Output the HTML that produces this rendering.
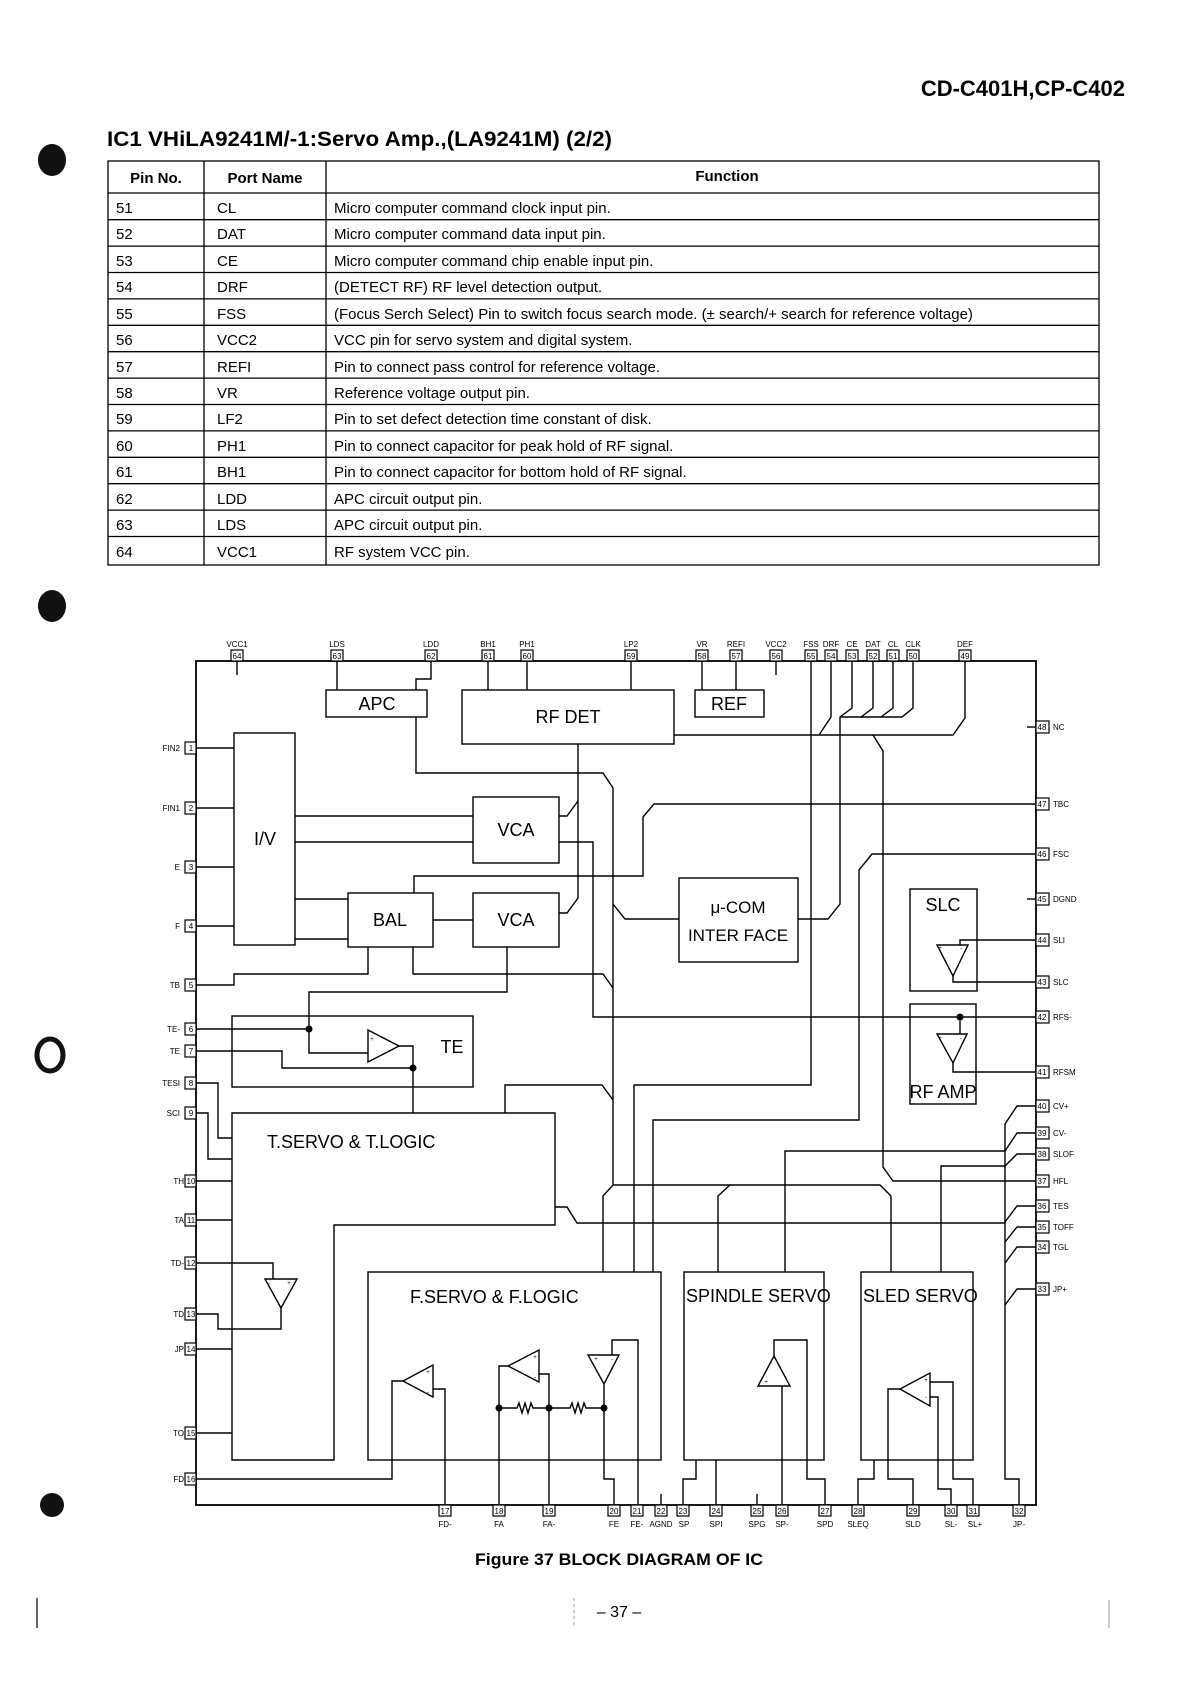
<!DOCTYPE html>
<html><head><meta charset="utf-8"><style>
html,body{margin:0;padding:0;background:#fff;}
svg{display:block;}
text{font-family:"Liberation Sans",Arial,sans-serif;fill:#000;}
</style></head><body>
<svg width="1190" height="1683" viewBox="0 0 1190 1683" xmlns="http://www.w3.org/2000/svg">
<rect width="1190" height="1683" fill="#fff"/>
<!-- punch holes -->
<ellipse cx="52" cy="160" rx="14" ry="16" fill="#111"/>
<ellipse cx="52" cy="606" rx="14" ry="16" fill="#111"/>
<ellipse cx="50" cy="1055" rx="13" ry="16" fill="none" stroke="#111" stroke-width="5"/>
<ellipse cx="52" cy="1505" rx="12" ry="12" fill="#111"/>

<text x="1125" y="96" font-size="22" font-weight="bold" text-anchor="end">CD-C401H,CP-C402</text>
<text x="107" y="146" font-size="21" font-weight="bold" textLength="505" lengthAdjust="spacingAndGlyphs">IC1 VHiLA9241M/-1:Servo Amp.,(LA9241M) (2/2)</text>

<!-- table -->
<g stroke="#000" stroke-width="1.3" fill="none">
<rect x="108" y="161" width="991" height="404"/>
<line x1="204" y1="161" x2="204" y2="565"/>
<line x1="326" y1="161" x2="326" y2="565"/>
<line x1="108" y1="193" x2="1099" y2="193"/>
<line x1="108" y1="219.7" x2="1099" y2="219.7"/>
<line x1="108" y1="246.1" x2="1099" y2="246.1"/>
<line x1="108" y1="272.5" x2="1099" y2="272.5"/>
<line x1="108" y1="298.9" x2="1099" y2="298.9"/>
<line x1="108" y1="325.3" x2="1099" y2="325.3"/>
<line x1="108" y1="351.7" x2="1099" y2="351.7"/>
<line x1="108" y1="378.1" x2="1099" y2="378.1"/>
<line x1="108" y1="404.5" x2="1099" y2="404.5"/>
<line x1="108" y1="430.9" x2="1099" y2="430.9"/>
<line x1="108" y1="457.3" x2="1099" y2="457.3"/>
<line x1="108" y1="483.7" x2="1099" y2="483.7"/>
<line x1="108" y1="510.1" x2="1099" y2="510.1"/>
<line x1="108" y1="536.5" x2="1099" y2="536.5"/>
</g>
<g font-size="15">
<text x="156" y="183" font-weight="bold" text-anchor="middle">Pin No.</text>
<text x="265" y="183" font-weight="bold" text-anchor="middle">Port Name</text>
<text x="727" y="181" font-weight="bold" text-anchor="middle">Function</text>
<text x="116" y="213">51</text><text x="217" y="213">CL</text><text x="334" y="213">Micro computer command clock input pin.</text>
<text x="116" y="239">52</text><text x="217" y="239">DAT</text><text x="334" y="239">Micro computer command data input pin.</text>
<text x="116" y="266">53</text><text x="217" y="266">CE</text><text x="334" y="266">Micro computer command chip enable input pin.</text>
<text x="116" y="292">54</text><text x="217" y="292">DRF</text><text x="334" y="292">(DETECT RF) RF level detection output.</text>
<text x="116" y="319">55</text><text x="217" y="319">FSS</text><text x="334" y="319">(Focus Serch Select)  Pin to switch focus search mode. (± search/+ search for reference voltage)</text>
<text x="116" y="345">56</text><text x="217" y="345">VCC2</text><text x="334" y="345">VCC pin for servo system and digital system.</text>
<text x="116" y="372">57</text><text x="217" y="372">REFI</text><text x="334" y="372">Pin to connect pass control for reference voltage.</text>
<text x="116" y="398">58</text><text x="217" y="398">VR</text><text x="334" y="398">Reference voltage output pin.</text>
<text x="116" y="424">59</text><text x="217" y="424">LF2</text><text x="334" y="424">Pin to set defect detection time constant of disk.</text>
<text x="116" y="451">60</text><text x="217" y="451">PH1</text><text x="334" y="451">Pin to connect capacitor for peak hold of RF signal.</text>
<text x="116" y="477">61</text><text x="217" y="477">BH1</text><text x="334" y="477">Pin to connect capacitor for bottom hold of RF signal.</text>
<text x="116" y="504">62</text><text x="217" y="504">LDD</text><text x="334" y="504">APC circuit output pin.</text>
<text x="116" y="530">63</text><text x="217" y="530">LDS</text><text x="334" y="530">APC circuit output pin.</text>
<text x="116" y="557">64</text><text x="217" y="557">VCC1</text><text x="334" y="557">RF system VCC pin.</text>
</g>

<!-- DIAGRAM -->
<g stroke="#000" stroke-width="1.4" fill="none">
<rect x="196" y="661" width="840" height="844" stroke-width="1.8"/>
<!-- blocks -->
<rect x="326" y="690" width="101" height="27"/>
<rect x="462" y="690" width="212" height="54"/>
<rect x="695" y="690" width="69" height="27"/>
<rect x="234" y="733" width="61" height="212"/>
<rect x="473" y="797" width="86" height="66"/>
<rect x="348" y="893" width="85" height="54"/>
<rect x="473" y="893" width="86" height="54"/>
<rect x="679" y="878" width="119" height="84"/>
<rect x="910" y="889" width="67" height="102"/>
<rect x="910" y="1004" width="66" height="100"/>
<rect x="232" y="1016" width="241" height="71"/>
<polygon points="232,1113 555,1113 555,1225 334,1225 334,1460 232,1460"/>
<rect x="368" y="1272" width="293" height="188"/>
<rect x="684" y="1272" width="140" height="188"/>
<rect x="861" y="1272" width="112" height="188"/>

<!-- top pin connections -->
<line x1="237" y1="661" x2="237" y2="675"/>
<line x1="337" y1="661" x2="337" y2="690"/>
<polyline points="431,661 431,679 416,679 416,690"/>
<line x1="488" y1="661" x2="488" y2="690"/>
<line x1="527" y1="661" x2="527" y2="690"/>
<line x1="631" y1="661" x2="631" y2="690"/>
<line x1="702" y1="661" x2="702" y2="690"/>
<line x1="736" y1="661" x2="736" y2="690"/>
<line x1="776" y1="661" x2="776" y2="675"/>
<polyline points="811,661 811,1085 634,1085 634,1272"/>
<polyline points="831,661 831,717 819,735"/>
<polyline points="852,661 852,708 840,717 840,904 828,919 798,919"/>
<polyline points="873,661 873,708 861,717"/>
<polyline points="893,661 893,708 881,717"/>
<polyline points="913,661 913,708 902,717 840,717"/>
<polyline points="965,661 965,718 953,735 674,735"/>
<polyline points="873,735 883,751 883,1167 893,1181 1035,1181"/>
<line x1="1027" y1="727" x2="1035" y2="727"/>
<line x1="1027" y1="899" x2="1035" y2="899"/>

<!-- APC out -->
<polyline points="416,717 416,773 603,773 613,788 613,1185 880,1185 891,1196 891,1272"/>
<polyline points="613,1185 603,1196 603,1272"/>
<polyline points="718,1272 718,1196 730,1185"/>
<polyline points="679,919 625,919 613,904"/>

<!-- RF DET out -->
<polyline points="578,744 578,898 567,913 559,913"/>
<polyline points="559,816 567,816 578,801"/>
<polyline points="559,842 593,842 593,1017 1035,1017"/>

<!-- I/V -->
<line x1="196" y1="748" x2="234" y2="748"/>
<line x1="196" y1="808" x2="234" y2="808"/>
<line x1="196" y1="867" x2="234" y2="867"/>
<line x1="196" y1="926" x2="234" y2="926"/>
<line x1="295" y1="816" x2="473" y2="816"/>
<line x1="295" y1="842" x2="473" y2="842"/>
<line x1="295" y1="899" x2="348" y2="899"/>
<line x1="295" y1="939" x2="348" y2="939"/>
<line x1="433" y1="920" x2="473" y2="920"/>
<polyline points="414,893 414,876 643,876 643,817 654,804 1035,804"/>
<polyline points="368,947 368,974 234,974 234,985 196,985"/>
<polyline points="413,947 413,974 603,974 613,988"/>
<polyline points="507,947 507,992 309,992 309,1053 368,1053"/>
<line x1="196" y1="1029" x2="309" y2="1029"/>
<polyline points="196,1051 282,1051 282,1068 413,1068"/>
<polygon points="368,1030 399,1046 368,1062"/>
<polyline points="399,1046 413,1046 413,1113"/>
<polyline points="196,1083 218,1083 218,1138 232,1138"/>
<polyline points="196,1113 208,1113 208,1159 232,1159"/>
<polyline points="505,1113 505,1085 602,1085 613,1100"/>
<polyline points="653,1272 653,1120 859,1120 859,870 872,854 1035,854"/>

<!-- T.SERVO -->
<line x1="196" y1="1181" x2="232" y2="1181"/>
<line x1="196" y1="1220" x2="232" y2="1220"/>
<polyline points="196,1263 273,1263 273,1279"/>
<polygon points="265,1279 297,1279 281,1308"/>
<polyline points="281,1308 281,1329 218,1329 218,1314 196,1314"/>
<line x1="196" y1="1349" x2="232" y2="1349"/>
<line x1="196" y1="1433" x2="232" y2="1433"/>
<polyline points="555,1207 567,1207 577,1223 1005,1223"/>

<!-- F.SERVO -->
<polyline points="196,1479 392,1479 392,1381 403,1381"/>
<polygon points="433,1365 433,1397 403,1381"/>
<polyline points="433,1389 445,1389 445,1504"/>
<polygon points="539,1350 539,1382 508,1366"/>
<polyline points="508,1366 499,1366 499,1504"/>
<polyline points="539,1374 549,1374 549,1504"/>
<polyline points="499,1408 517,1408 519,1403 522,1413 525,1403 528,1413 531,1403 533,1408 549,1408"/>
<polyline points="549,1408 570,1408 572,1403 575,1413 578,1403 581,1413 584,1403 586,1408 604,1408"/>
<polygon points="588,1355 619,1355 604,1384"/>
<polyline points="604,1384 604,1479 614,1479 614,1504"/>
<polyline points="612,1355 612,1340 638,1340 638,1504"/>
<line x1="661" y1="1494" x2="661" y2="1504"/>

<!-- spindle -->
<polyline points="696,1460 696,1479 683,1479 683,1504"/>
<line x1="716" y1="1460" x2="716" y2="1504"/>
<line x1="757" y1="1494" x2="757" y2="1504"/>
<polygon points="758,1386 790,1386 774,1356"/>
<polyline points="774,1356 774,1340 807,1340 807,1479 825,1479 825,1504"/>
<line x1="782" y1="1386" x2="782" y2="1504"/>
<polyline points="785,1272 785,1151 1005,1151"/>
<polyline points="1035,1106 1017,1106 1005,1124 1005,1479 1019,1479 1019,1504"/>
<polyline points="1035,1133 1017,1133 1005,1151"/>
<polyline points="941,1272 941,1166 1005,1166 1017,1154 1035,1154"/>
<polyline points="1035,1206 1017,1206 1005,1222"/>
<polyline points="1035,1227 1017,1227 1005,1242"/>
<polyline points="1035,1247 1017,1247 1005,1263"/>
<polyline points="1035,1289 1017,1289 1005,1305"/>

<!-- sled -->
<polyline points="874,1460 874,1479 858,1479 858,1504"/>
<polygon points="930,1373 930,1406 900,1389"/>
<polyline points="900,1389 888,1389 888,1479 913,1479 913,1504"/>
<polyline points="930,1382 953,1382 953,1479 973,1479 973,1504"/>
<polyline points="930,1397 938,1397 938,1489 951,1489 951,1504"/>

<!-- SLC / RF AMP -->
<polygon points="937,945 968,945 953,976"/>
<polyline points="960,945 960,940 1035,940"/>
<polyline points="953,976 953,982 1035,982"/>
<polygon points="937,1034 967,1034 953,1063"/>
<line x1="960" y1="1017" x2="960" y2="1034"/>
<polyline points="953,1063 953,1072 1035,1072"/>

<!-- pin boxes top -->
<g stroke-width="1.2" fill="#fff">
<rect x="231" y="650" width="12" height="11"/><rect x="331" y="650" width="12" height="11"/><rect x="425" y="650" width="12" height="11"/><rect x="482" y="650" width="12" height="11"/><rect x="521" y="650" width="12" height="11"/><rect x="625" y="650" width="12" height="11"/><rect x="696" y="650" width="12" height="11"/><rect x="730" y="650" width="12" height="11"/><rect x="770" y="650" width="12" height="11"/><rect x="805" y="650" width="12" height="11"/><rect x="825" y="650" width="12" height="11"/><rect x="846" y="650" width="12" height="11"/><rect x="867" y="650" width="12" height="11"/><rect x="887" y="650" width="12" height="11"/><rect x="907" y="650" width="12" height="11"/><rect x="959" y="650" width="12" height="11"/>
<!-- left -->
<rect x="185" y="742" width="11" height="12"/><rect x="185" y="802" width="11" height="12"/><rect x="185" y="861" width="11" height="12"/><rect x="185" y="920" width="11" height="12"/><rect x="185" y="979" width="11" height="12"/><rect x="185" y="1023" width="11" height="12"/><rect x="185" y="1045" width="11" height="12"/><rect x="185" y="1077" width="11" height="12"/><rect x="185" y="1107" width="11" height="12"/><rect x="185" y="1175" width="11" height="12"/><rect x="185" y="1214" width="11" height="12"/><rect x="185" y="1257" width="11" height="12"/><rect x="185" y="1308" width="11" height="12"/><rect x="185" y="1343" width="11" height="12"/><rect x="185" y="1427" width="11" height="12"/><rect x="185" y="1473" width="11" height="12"/>
<!-- right -->
<rect x="1036" y="721" width="13" height="12"/><rect x="1036" y="798" width="13" height="12"/><rect x="1036" y="848" width="13" height="12"/><rect x="1036" y="893" width="13" height="12"/><rect x="1036" y="934" width="13" height="12"/><rect x="1036" y="976" width="13" height="12"/><rect x="1036" y="1011" width="13" height="12"/><rect x="1036" y="1066" width="13" height="12"/><rect x="1036" y="1100" width="13" height="12"/><rect x="1036" y="1127" width="13" height="12"/><rect x="1036" y="1148" width="13" height="12"/><rect x="1036" y="1175" width="13" height="12"/><rect x="1036" y="1200" width="13" height="12"/><rect x="1036" y="1221" width="13" height="12"/><rect x="1036" y="1241" width="13" height="12"/><rect x="1036" y="1283" width="13" height="12"/>
<!-- bottom -->
<rect x="439" y="1505" width="12" height="11"/><rect x="493" y="1505" width="12" height="11"/><rect x="543" y="1505" width="12" height="11"/><rect x="608" y="1505" width="12" height="11"/><rect x="631" y="1505" width="12" height="11"/><rect x="655" y="1505" width="12" height="11"/><rect x="677" y="1505" width="12" height="11"/><rect x="710" y="1505" width="12" height="11"/><rect x="751" y="1505" width="12" height="11"/><rect x="776" y="1505" width="12" height="11"/><rect x="819" y="1505" width="12" height="11"/><rect x="852" y="1505" width="12" height="11"/><rect x="907" y="1505" width="12" height="11"/><rect x="945" y="1505" width="12" height="11"/><rect x="967" y="1505" width="12" height="11"/><rect x="1013" y="1505" width="12" height="11"/>
</g>
</g>
<!-- dots -->
<g fill="#000">
<circle cx="309" cy="1029" r="3.5"/><circle cx="413" cy="1068" r="3.5"/>
<circle cx="499" cy="1408" r="3.5"/><circle cx="549" cy="1408" r="3.5"/><circle cx="604" cy="1408" r="3.5"/>
<circle cx="960" cy="1017" r="3.5"/>
</g>

<!-- block labels -->
<g font-size="18" text-anchor="middle">
<text x="377" y="710">APC</text>
<text x="568" y="723">RF DET</text>
<text x="729" y="710">REF</text>
<text x="265" y="845">I/V</text>
<text x="516" y="836">VCA</text>
<text x="390" y="926">BAL</text>
<text x="516" y="926">VCA</text>
<text x="738" y="913" font-size="17">μ-COM</text>
<text x="738" y="941" font-size="17">INTER FACE</text>
<text x="943" y="911">SLC</text>
<text x="943" y="1098">RF AMP</text>
<text x="452" y="1053">TE</text>
<text x="267" y="1148" text-anchor="start">T.SERVO &amp; T.LOGIC</text>
<text x="410" y="1303" text-anchor="start">F.SERVO &amp; F.LOGIC</text>
<text x="686" y="1302" text-anchor="start">SPINDLE SERVO</text>
<text x="863" y="1302" text-anchor="start">SLED SERVO</text>
</g>
<g font-size="6" text-anchor="middle">
<text x="940" y="950">+</text><text x="961" y="950">-</text>
<text x="940" y="1040">+</text><text x="961" y="1040">-</text>
<text x="372" y="1041">+</text><text x="372" y="1061">-</text>
<text x="269" y="1285">-</text><text x="289" y="1285">+</text>
<text x="428" y="1374">+</text><text x="428" y="1394">-</text>
<text x="535" y="1359">+</text><text x="535" y="1379">-</text>
<text x="596" y="1361">+</text><text x="612" y="1361">-</text>
<text x="766" y="1384">+</text>
<text x="926" y="1382">+</text><text x="926" y="1399">-</text>
</g>

<!-- pin numbers -->
<g font-size="8" text-anchor="middle">
<text x="237" y="659">64</text><text x="337" y="659">63</text><text x="431" y="659">62</text><text x="488" y="659">61</text><text x="527" y="659">60</text><text x="631" y="659">59</text><text x="702" y="659">58</text><text x="736" y="659">57</text><text x="776" y="659">56</text><text x="811" y="659">55</text><text x="831" y="659">54</text><text x="852" y="659">53</text><text x="873" y="659">52</text><text x="893" y="659">51</text><text x="913" y="659">50</text><text x="965" y="659">49</text>
<text x="191" y="751">1</text><text x="191" y="811">2</text><text x="191" y="870">3</text><text x="191" y="929">4</text><text x="191" y="988">5</text><text x="191" y="1032">6</text><text x="191" y="1054">7</text><text x="191" y="1086">8</text><text x="191" y="1116">9</text><text x="191" y="1184">10</text><text x="191" y="1223">11</text><text x="191" y="1266">12</text><text x="191" y="1317">13</text><text x="191" y="1352">14</text><text x="191" y="1436">15</text><text x="191" y="1482">16</text>
<text x="1042" y="730">48</text><text x="1042" y="807">47</text><text x="1042" y="857">46</text><text x="1042" y="902">45</text><text x="1042" y="943">44</text><text x="1042" y="985">43</text><text x="1042" y="1020">42</text><text x="1042" y="1075">41</text><text x="1042" y="1109">40</text><text x="1042" y="1136">39</text><text x="1042" y="1157">38</text><text x="1042" y="1184">37</text><text x="1042" y="1209">36</text><text x="1042" y="1230">35</text><text x="1042" y="1250">34</text><text x="1042" y="1292">33</text>
<text x="445" y="1514">17</text><text x="499" y="1514">18</text><text x="549" y="1514">19</text><text x="614" y="1514">20</text><text x="637" y="1514">21</text><text x="661" y="1514">22</text><text x="683" y="1514">23</text><text x="716" y="1514">24</text><text x="757" y="1514">25</text><text x="782" y="1514">26</text><text x="825" y="1514">27</text><text x="858" y="1514">28</text><text x="913" y="1514">29</text><text x="951" y="1514">30</text><text x="973" y="1514">31</text><text x="1019" y="1514">32</text>
</g>
<!-- pin labels -->
<g font-size="8">
<g text-anchor="middle">
<text x="237" y="647">VCC1</text><text x="337" y="647">LDS</text><text x="431" y="647">LDD</text><text x="488" y="647">BH1</text><text x="527" y="647">PH1</text><text x="631" y="647">LP2</text><text x="702" y="647">VR</text><text x="736" y="647">REFI</text><text x="776" y="647">VCC2</text><text x="811" y="647">FSS</text><text x="831" y="647">DRF</text><text x="852" y="647">CE</text><text x="873" y="647">DAT</text><text x="893" y="647">CL</text><text x="913" y="647">CLK</text><text x="965" y="647">DEF</text>
<text x="445" y="1527">FD-</text><text x="499" y="1527">FA</text><text x="549" y="1527">FA-</text><text x="614" y="1527">FE</text><text x="637" y="1527">FE-</text><text x="661" y="1527">AGND</text><text x="684" y="1527">SP</text><text x="716" y="1527">SPI</text><text x="757" y="1527">SPG</text><text x="782" y="1527">SP-</text><text x="825" y="1527">SPD</text><text x="858" y="1527">SLEQ</text><text x="913" y="1527">SLD</text><text x="951" y="1527">SL-</text><text x="975" y="1527">SL+</text><text x="1019" y="1527">JP-</text>
</g>
<g text-anchor="end">
<text x="180" y="751">FIN2</text><text x="180" y="811">FIN1</text><text x="180" y="870">E</text><text x="180" y="929">F</text><text x="180" y="988">TB</text><text x="180" y="1032">TE-</text><text x="180" y="1054">TE</text><text x="180" y="1086">TESI</text><text x="180" y="1116">SCI</text><text x="184" y="1184">TH</text><text x="184" y="1223">TA</text><text x="184" y="1266">TD-</text><text x="184" y="1317">TD</text><text x="184" y="1352">JP</text><text x="184" y="1436">TO</text><text x="184" y="1482">FD</text>
</g>
<text x="1053" y="730">NC</text><text x="1053" y="807">TBC</text><text x="1053" y="857">FSC</text><text x="1053" y="902">DGND</text><text x="1053" y="943">SLI</text><text x="1053" y="985">SLC</text><text x="1053" y="1020">RFS-</text><text x="1053" y="1075">RFSM</text><text x="1053" y="1109">CV+</text><text x="1053" y="1136">CV-</text><text x="1053" y="1157">SLOF</text><text x="1053" y="1184">HFL</text><text x="1053" y="1209">TES</text><text x="1053" y="1230">TOFF</text><text x="1053" y="1250">TGL</text><text x="1053" y="1292">JP+</text>
</g>

<text x="475" y="1565" font-size="16.5" font-weight="bold" textLength="288" lengthAdjust="spacingAndGlyphs">Figure 37 BLOCK DIAGRAM OF IC</text>
<text x="619" y="1617" font-size="16" text-anchor="middle">– 37 –</text>
<line x1="574" y1="1598" x2="574" y2="1628" stroke="#999" stroke-width="1" stroke-dasharray="3,3"/>
<line x1="37" y1="1598" x2="37" y2="1628" stroke="#333" stroke-width="1.5"/>
<line x1="1109" y1="1600" x2="1109" y2="1628" stroke="#999" stroke-width="1"/>
</svg>
</body></html>
